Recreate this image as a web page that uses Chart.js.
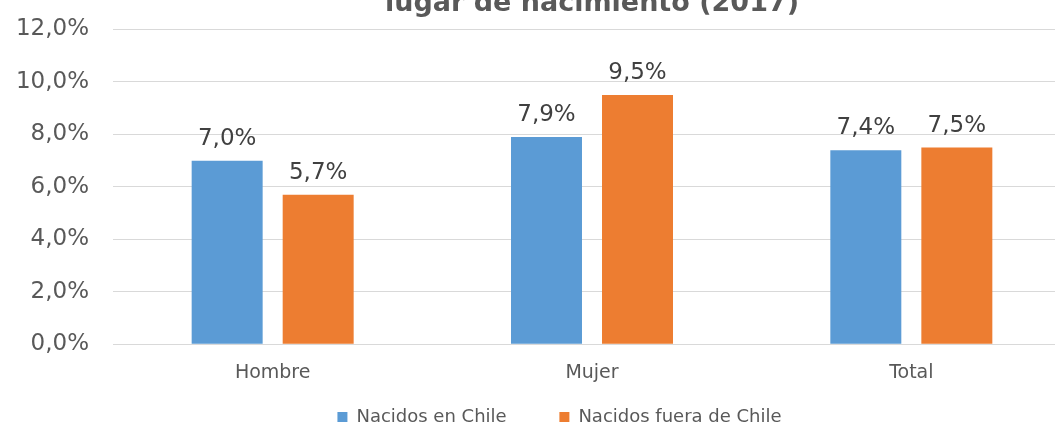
<!DOCTYPE html>
<html>
<head>
<meta charset="utf-8">
<script src="https://cdn.jsdelivr.net/npm/chart.js@4.4.1/dist/chart.umd.min.js"></script>
<style>
  html, body { margin: 0; padding: 0; background: #ffffff; overflow: hidden; }
  #wrap { position: relative; width: 1055px; height: 426px; overflow: hidden; }
  #c { position: absolute; left: 0; top: -12px; }
</style>
</head>
<body>
<div id="wrap"><canvas id="c" width="1103" height="448"></canvas></div>
<script>
const titleText = 'lugar de nacimiento (2017)';
const categories = ['Hombre', 'Mujer', 'Total'];
const seriesNames = ['Nacidos en Chile', 'Nacidos fuera de Chile'];
const nacidosEnChile = [7.0, 7.9, 7.4];
const nacidosFueraDeChile = [5.7, 9.5, 7.5];
const yTicks = [0, 2, 4, 6, 8, 10, 12];

const FONT = "'DejaVu Sans', Verdana, sans-serif";
const fmt = v => v.toFixed(1).replace('.', ',') + '%';

const dataLabels = {
  id: 'dataLabels',
  afterDatasetsDraw(chart) {
    const ctx = chart.ctx;
    ctx.save();
    ctx.font = '23px ' + FONT;
    ctx.fillStyle = '#404040';
    ctx.textAlign = 'center';
    ctx.textBaseline = 'alphabetic';
    chart.data.datasets.forEach((ds, di) => {
      chart.getDatasetMeta(di).data.forEach((bar, i) => {
        ctx.fillText(fmt(ds.data[i]), bar.x, bar.y - 16);
      });
    });
    ctx.restore();
  }
};

new Chart(document.getElementById('c'), {
  type: 'bar',
  data: {
    labels: categories,
    datasets: [
      { label: seriesNames[0], data: nacidosEnChile, backgroundColor: '#5B9BD5' },
      { label: seriesNames[1], data: nacidosFueraDeChile, backgroundColor: '#ED7D31' }
    ]
  },
  options: {
    responsive: false,
    animation: false,
    events: [],
    layout: { padding: { left: 16, right: 0, top: 0, bottom: 0 } },
    datasets: { bar: { categoryPercentage: 0.57, barPercentage: 0.78 } },
    scales: {
      x: {
        grid: { display: false, drawTicks: false },
        border: { display: true, color: '#d9d9d9', width: 1 },
        ticks: { color: '#595959', font: { family: FONT, size: 19, lineHeight: 1.2 }, padding: 17 }
      },
      y: {
        min: 0, max: 12,
        afterFit: s => { s.width = 97; },
        afterBuildTicks: s => { s.ticks = yTicks.map(v => ({ value: v })); },
        grid: { color: '#d9d9d9', lineWidth: 1, drawTicks: false },
        border: { display: false },
        ticks: { color: '#595959', font: { family: FONT, size: 23 }, padding: 24, callback: v => fmt(v) }
      },
      y2: {
        position: 'right',
        display: true,
        afterFit: s => { s.width = 32; },
        grid: { display: false, drawTicks: false },
        border: { display: false },
        ticks: { display: false }
      }
    },
    plugins: {
      title: {
        display: true,
        text: titleText,
        fullSize: false,
        color: '#595959',
        font: { family: FONT, size: 27, weight: 'bold', lineHeight: 1.2 },
        padding: { top: 0, bottom: 9.1 }
      },
      legend: {
        position: 'bottom',
        labels: {
          color: '#595959',
          font: { family: FONT, size: 18 },
          boxWidth: 10, boxHeight: 10,
          padding: 7,
          generateLabels: chart => chart.data.datasets.map((ds, i) => ({
            text: ds.label + (i === 0 ? '\u00a0'.repeat(8) : ''),
            fillStyle: ds.backgroundColor,
            strokeStyle: ds.backgroundColor,
            lineWidth: 0,
            fontColor: '#595959',
            datasetIndex: i,
            hidden: false
          }))
        }
      },
      tooltip: { enabled: false }
    }
  },
  plugins: [dataLabels]
});
</script>
</body>
</html>
